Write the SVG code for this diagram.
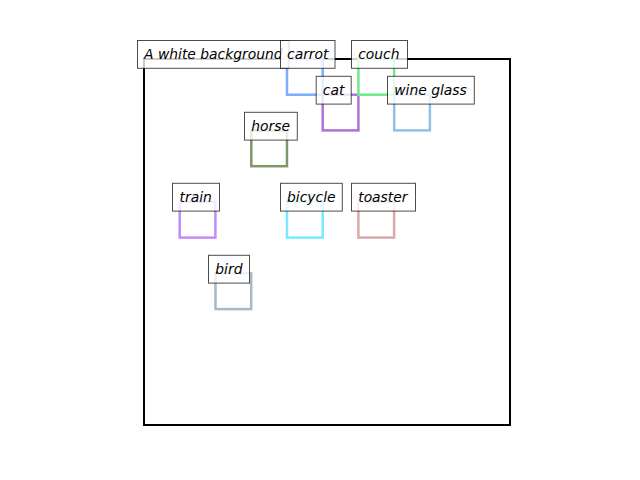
<svg xmlns="http://www.w3.org/2000/svg" width="640" height="480" viewBox="0 0 640 480">
<style>
.sq{fill:none;stroke-width:2.5}
.lb rect{fill:#ffffff;fill-opacity:0.8;stroke:#000;stroke-opacity:0.7;stroke-width:1}
.lb text{font-family:"DejaVu Sans",sans-serif;font-style:italic;font-size:13.89px;fill:#000}
</style>
<rect x="0" y="0" width="640" height="480" fill="#fff"/>
<g id="frame">
<rect x="144" y="59" width="366" height="366" fill="#fff" stroke="#000" stroke-width="2"/>
</g>
<g id="boxes">
<rect id="box-carrot" class="sq" x="287" y="59" width="35.7" height="35.7" stroke="#7aacff"/>
<rect id="box-cat" class="sq" x="322.7" y="94.7" width="35.7" height="35.7" stroke="#a874d6"/>
<rect id="box-couch" class="sq" x="358.4" y="59" width="35.7" height="35.7" stroke="#6eea8a"/>
<rect id="box-wineglass" class="sq" x="394.2" y="94.7" width="35.7" height="35.7" stroke="#8ec0e8"/>
<rect id="box-horse" class="sq" x="251.3" y="130.5" width="35.7" height="35.7" stroke="#7f9668"/>
<rect id="box-train" class="sq" x="179.7" y="201.9" width="35.7" height="35.7" stroke="#c38cf5"/>
<rect id="box-bicycle" class="sq" x="287" y="201.9" width="35.7" height="35.7" stroke="#7ae8ff"/>
<rect id="box-toaster" class="sq" x="358.4" y="201.9" width="35.7" height="35.7" stroke="#d8aaa8"/>
<rect id="box-bird" class="sq" x="215.5" y="273.4" width="35.7" height="35.7" stroke="#a8b8c8"/>
</g>
<g id="label-background" class="lb"><rect x="137.5" y="40.5" width="151.5" height="27.8"/><text x="144" y="58.7">A white background</text></g>
<g id="label-carrot" class="lb"><rect x="280.5" y="40.5" width="54.5" height="27.8"/><text x="287" y="58.7">carrot</text></g>
<g id="label-couch" class="lb"><rect x="351.5" y="40.5" width="56" height="27.8"/><text x="358.2" y="58.7">couch</text></g>
<g id="label-cat" class="lb"><rect x="316.2" y="76.3" width="35" height="27.8"/><text x="322.8" y="94.5">cat</text></g>
<g id="label-wineglass" class="lb"><rect x="387.5" y="76.3" width="86.8" height="27.8"/><text x="394.2" y="94.5">wine glass</text></g>
<g id="label-horse" class="lb"><rect x="244.5" y="112.3" width="52.8" height="27.8"/><text x="251.2" y="130.5">horse</text></g>
<g id="label-train" class="lb"><rect x="172.5" y="183.3" width="47" height="27.8"/><text x="179.5" y="201.5">train</text></g>
<g id="label-bicycle" class="lb"><rect x="280.5" y="183.3" width="61.8" height="27.8"/><text x="287" y="201.5">bicycle</text></g>
<g id="label-toaster" class="lb"><rect x="351.5" y="183.3" width="64" height="27.8"/><text x="358.2" y="201.5">toaster</text></g>
<g id="label-bird" class="lb"><rect x="208.5" y="255.3" width="41" height="27.8"/><text x="215.3" y="273.5">bird</text></g>
</svg>
